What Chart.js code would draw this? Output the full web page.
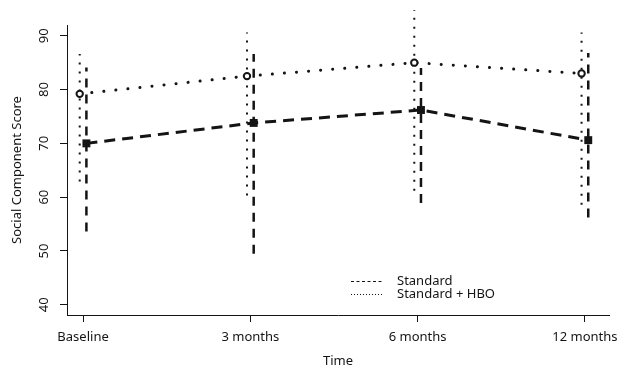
<!DOCTYPE html>
<html><head><meta charset="utf-8">
<script src="https://cdn.jsdelivr.net/npm/chart.js@4.4.0/dist/chart.umd.min.js"></script>
<style>html,body{margin:0;padding:0;background:#fff}#wrap{width:619px;height:369px}</style>
</head><body><div id="wrap"><canvas id="c" width="619" height="369"></canvas></div>
<script>
const categories = ["Baseline", "3 months", "6 months", "12 months"];
const standardMean = [70.0, 73.8, 76.2, 70.6];
const standardLow  = [53.6, 49.5, 58.9, 56.2];
const standardHigh = [84.1, 86.6, 84.0, 86.8];
const hboMean = [79.2, 82.5, 85.0, 83.0];
const hboLow  = [62.9, 60.3, 61.2, 58.6];
const hboHigh = [86.6, 90.6, 94.8, 90.6];
const yTicks = [40, 50, 60, 70, 80, 90];
const seriesNames = ["Standard", "Standard + HBO"];
const OFF = 0.02;
const INK = '#141414';
const FONT = '"Noto Sans", sans-serif';

const datasets = [];
categories.forEach((c, i) => {
  datasets.push({type:'line', data:[{x:i-OFF,y:hboLow[i]},{x:i-OFF,y:hboHigh[i]}], borderColor:INK, borderWidth:2,
    borderDash:[2,7], pointRadius:0, clip:false, order:5});
  datasets.push({type:'line', data:[{x:i+OFF,y:standardLow[i]},{x:i+OFF,y:standardHigh[i]}], borderColor:INK, borderWidth:2.5,
    borderDash:[9,7], pointRadius:0, clip:false, order:5});
});
datasets.push({type:'line', label:seriesNames[1], data:hboMean.map((v,i)=>({x:i-OFF,y:v})), borderColor:INK, borderWidth:3,
  borderDash:[0.1,12], borderCapStyle:'round', pointStyle:'circle', pointRadius:3.2, pointBorderWidth:2,
  pointBackgroundColor:'#fff', pointBorderColor:INK, clip:false, order:1});
datasets.push({type:'line', label:seriesNames[0], data:standardMean.map((v,i)=>({x:i+OFF,y:v})), borderColor:INK, borderWidth:3,
  borderDash:[11,7], pointStyle:'rect', pointRadius:5.6, pointBorderWidth:0,
  pointBackgroundColor:INK, pointBorderColor:INK, clip:false, order:0});

const overlay = {
  id:'overlay',
  afterDraw(chart){
    const ctx = chart.ctx, ys = chart.scales.y;
    ctx.save();
    ctx.fillStyle = INK;
    ctx.font = '13px ' + FONT;
    ctx.textAlign = 'center'; ctx.textBaseline = 'middle';
    yTicks.forEach(v => {
      const py = ys.getPixelForValue(v);
      ctx.save(); ctx.translate(44, py); ctx.rotate(-Math.PI/2); ctx.fillText(String(v), 0, 0); ctx.restore();
    });
    // legend
    ctx.strokeStyle = INK; ctx.lineWidth = 1;
    ctx.setLineDash([3,2.5]);
    ctx.beginPath(); ctx.moveTo(351, 281.5); ctx.lineTo(383, 281.5); ctx.stroke();
    ctx.setLineDash([1,2]);
    ctx.beginPath(); ctx.moveTo(351, 294.5); ctx.lineTo(383, 294.5); ctx.stroke();
    ctx.setLineDash([]);
    ctx.textAlign = 'left';
    ctx.fillText(seriesNames[0], 397, 281);
    ctx.fillText(seriesNames[1], 397, 294);
    ctx.restore();
  }
};

new Chart(document.getElementById('c'), {
  data:{datasets},
  options:{
    responsive:false, animation:false, devicePixelRatio:1,
    layout:{padding:{top:25, right:10, left:0, bottom:0}},
    plugins:{legend:{display:false}, tooltip:{enabled:false}},
    scales:{
      x:{type:'linear', min:-0.096, max:3.144,
        afterBuildTicks(s){ s.ticks = categories.map((c,i)=>({value:i})); },
        afterFit(s){ s.height = 54; s.paddingLeft = 0; s.paddingRight = 0; },
        ticks:{callback:(v)=>categories[v], color:INK, font:{family:FONT, size:13}, padding:7, maxRotation:0, autoSkip:false},
        grid:{drawOnChartArea:false, drawTicks:true, tickLength:7, color:INK},
        border:{display:true, color:INK, width:1},
        title:{display:true, text:'Time', color:INK, font:{family:FONT, size:13}, padding:{top:6, bottom:0}}
      },
      y:{type:'linear', min:38.1, max:92.0,
        afterBuildTicks(s){ s.ticks = yTicks.map(v=>({value:v})); },
        afterFit(s){ s.width = 67; s.paddingTop = 0; s.paddingBottom = 0; },
        ticks:{display:false},
        grid:{drawOnChartArea:false, drawTicks:true, tickLength:7, color:INK},
        border:{display:true, color:INK, width:1},
        title:{display:true, text:'Social Component Score', color:INK, font:{family:FONT, size:13}, padding:{top:9, bottom:0}}
      }
    }
  },
  plugins:[overlay]
});
</script></body></html>
